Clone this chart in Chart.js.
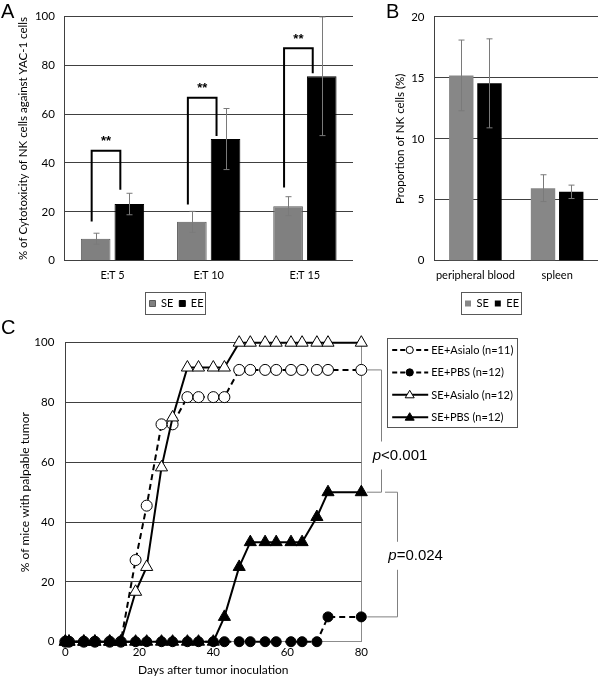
<!DOCTYPE html>
<html><head><meta charset="utf-8">
<script src="https://cdn.jsdelivr.net/npm/chart.js@4.4.1/dist/chart.umd.min.js"></script>
<style>
html,body{margin:0;padding:0;background:#fff;width:600px;height:685px;overflow:hidden;}
.wrap{position:absolute;}
.lbl{position:absolute;font-family:"Liberation Sans",Arial,sans-serif;font-size:20px;line-height:20px;color:#000;}
</style></head><body>
<div class="wrap" style="left:0;top:0;width:360px;height:319px"><canvas id="cA"></canvas></div>
<div class="wrap" style="left:386px;top:0;width:214px;height:319px"><canvas id="cB"></canvas></div>
<div class="wrap" style="left:0;top:320px;width:600px;height:365px"><canvas id="cC"></canvas></div>
<div class="lbl" style="left:1px;top:1px">A</div>
<div class="lbl" style="left:386px;top:1px">B</div>
<div class="lbl" style="left:1px;top:317px">C</div>
<script>
// ---------- Panel A data ----------
const catsA = ['E:T 5', 'E:T 10', 'E:T 15'];
const seA = [9.0, 15.9, 22.3];
const seAErr = [2.25, 4.3, 3.9];
const eeA = [23.2, 49.8, 75.5];
const eeAErr = [4.4, 12.5, 24.3];
const sigLeftA = [16, 23, 30];
const sigTopA = [45, 66.7, 87];
const sigRightA = [29, 51, 76.7];
const sigLabelA = ['**', '**', '**'];

// ---------- Panel B data ----------
const catsB = ['peripheral blood', 'spleen'];
const seB = [15.2, 5.95];
const seBErr = [2.9, 1.1];
const eeB = [14.55, 5.65];
const eeBErr = [3.65, 0.55];

// ---------- Panel C data ----------
const days = [0, 1, 5, 8, 12, 15, 19, 22, 26, 29, 33, 36, 40, 43, 47, 50, 54, 57, 61, 64, 68, 71, 80];
const eeAsialo = [0, 0, 0, 0, 0, 0, 27.3, 45.5, 72.7, 72.7, 81.8, 81.8, 81.8, 81.8, 90.9, 90.9, 90.9, 90.9, 90.9, 90.9, 90.9, 90.9, 90.9];
const eePBS = [0, 0, 0, 0, 0, 0, 0, 0, 0, 0, 0, 0, 0, 0, 0, 0, 0, 0, 0, 0, 0, 8.3, 8.3];
const seAsialo = [0, 0, 0, 0, 0, 0, 16.7, 25, 58.3, 75, 91.7, 91.7, 91.7, 91.7, 100, 100, 100, 100, 100, 100, 100, 100, 100];
const sePBS = [0, 0, 0, 0, 0, 0, 0, 0, 0, 0, 0, 0, 0, 8.3, 25, 33.3, 33.3, 33.3, 33.3, 33.3, 41.7, 50, 50];
const namesC = ['EE+Asialo (n=11)', 'EE+PBS (n=12)', 'SE+Asialo (n=12)', 'SE+PBS (n=12)'];
const pLabels = [['p', '<0.001'], ['p', '=0.024']];

const FONT = 'Lato, "Open Sans", sans-serif';
Chart.defaults.font.family = FONT;
Chart.defaults.color = '#000';
Chart.defaults.animation = false;

const errorBars = {
  id: 'errorBars',
  afterDatasetsDraw(chart) {
    const ctx = chart.ctx, y = chart.scales.y;
    ctx.save();
    ctx.strokeStyle = '#7a7a7a';
    ctx.lineWidth = 1;
    chart.data.datasets.forEach((ds, i) => {
      const meta = chart.getDatasetMeta(i);
      meta.data.forEach((bar, j) => {
        const v = ds.data[j], e = ds.errors[j];
        const x = Math.round(bar.x) + 0.5;
        const yt = y.getPixelForValue(v + e), yb = y.getPixelForValue(v - e);
        ctx.beginPath();
        ctx.moveTo(x, yt); ctx.lineTo(x, yb);
        ctx.moveTo(x - 3, yt); ctx.lineTo(x + 3, yt);
        ctx.moveTo(x - 3, yb); ctx.lineTo(x + 3, yb);
        ctx.stroke();
      });
    });
    ctx.restore();
  }
};

const legendBox = {
  id: 'legendBox',
  afterDraw(chart) {
    const hb = chart.legend && chart.legend.legendHitBoxes;
    if (!hb || !hb.length) return;
    const l = Math.min(...hb.map(h => h.left)) - 4;
    const r = Math.max(...hb.map(h => h.left + h.width)) + 2;
    const t = Math.min(...hb.map(h => h.top)) - 6;
    const b = Math.max(...hb.map(h => h.top + h.height)) + 5;
    const ctx = chart.ctx;
    ctx.save();
    ctx.strokeStyle = '#595959';
    ctx.lineWidth = 1;
    ctx.strokeRect(Math.round(l) + 0.5, Math.round(t) + 0.5, Math.round(r - l), Math.round(b - t));
    ctx.restore();
  }
};

const sigPlugin = {
  id: 'sigPlugin',
  afterDatasetsDraw(chart) {
    const ctx = chart.ctx, y = chart.scales.y;
    const m0 = chart.getDatasetMeta(0), m1 = chart.getDatasetMeta(1);
    ctx.save();
    ctx.strokeStyle = '#000';
    ctx.lineWidth = 2;
    ctx.lineJoin = 'miter';
    for (let i = 0; i < catsA.length; i++) {
      const xl = m0.data[i].x - 4, xr = m1.data[i].x - 9;
      const yt = y.getPixelForValue(sigTopA[i]);
      ctx.beginPath();
      ctx.moveTo(xl, y.getPixelForValue(sigLeftA[i]));
      ctx.lineTo(xl, yt);
      ctx.lineTo(xr, yt);
      ctx.lineTo(xr, y.getPixelForValue(sigRightA[i]));
      ctx.stroke();
      ctx.fillStyle = '#000';
      ctx.font = 'bold 13px "Liberation Sans", Arial, sans-serif';
      ctx.textAlign = 'center';
      ctx.textBaseline = 'middle';
      ctx.fillText(sigLabelA[i], (xl + xr) / 2, yt - 9);
    }
    ctx.restore();
  }
};

function barOptions(cfg) {
  return {
    responsive: true, maintainAspectRatio: false, animation: false,
    layout: { padding: { top: 10.7, right: cfg.right, left: 0, bottom: 0 } },
    plugins: {
      legend: { position: 'bottom', labels: { boxWidth: 6, boxHeight: 6, padding: 6, font: { size: 11 }, color: '#000' } },
      tooltip: { enabled: false }
    },
    scales: {
      x: {
        grid: { display: false, drawTicks: false }, border: { display: false },
        ticks: { padding: 8.5, font: { size: 11 }, color: '#000', maxRotation: 0, minRotation: 0, autoSkip: false },
        afterFit: s => { s.height = 31.3; }
      },
      y: {
        min: 0, max: cfg.max,
        ticks: { stepSize: cfg.step, padding: cfg.tickPad, font: { size: 11.5 }, color: '#000' },
        grid: { color: '#404040', drawTicks: false, lineWidth: 1 },
        border: { display: true, color: '#404040', width: 1 },
        title: { display: true, text: cfg.title, font: { size: cfg.titleSize }, color: '#000', padding: { top: cfg.titlePad, bottom: 0 } },
        afterFit: s => { s.width = cfg.axisW; }
      }
    }
  };
}

new Chart(document.getElementById('cA'), {
  type: 'bar',
  data: {
    labels: catsA,
    datasets: [
      { label: 'SE', data: seA, errors: seAErr, backgroundColor: '#808080', borderColor: '#5a5a5a', borderWidth: 1, categoryPercentage: 0.70, barPercentage: 0.88 },
      { label: 'EE', data: eeA, errors: eeAErr, backgroundColor: '#000', borderColor: '#000', borderWidth: 1, categoryPercentage: 0.70, barPercentage: 0.88 }
    ]
  },
  options: barOptions({ right: 7, max: 100, step: 20, tickPad: 9.5, title: '% of Cytotoxicity of NK cells against YAC-1 cells', titleSize: 11.5, titlePad: 16.5, axisW: 64.4 }),
  plugins: [errorBars, sigPlugin, legendBox]
});

new Chart(document.getElementById('cB'), {
  type: 'bar',
  data: {
    labels: catsB,
    datasets: [
      { label: 'SE', data: seB, errors: seBErr, backgroundColor: '#878787', borderColor: '#878787', borderWidth: 0, categoryPercentage: 0.69, barPercentage: 0.865 },
      { label: 'EE', data: eeB, errors: eeBErr, backgroundColor: '#000', borderColor: '#000', borderWidth: 0, categoryPercentage: 0.69, barPercentage: 0.865 }
    ]
  },
  options: barOptions({ right: 2, max: 20, step: 5, tickPad: 10, title: 'Proportion of NK cells (%)', titleSize: 11.5, titlePad: 7.2, axisW: 48.5 }),
  plugins: [errorBars, legendBox]
});

// ---------- Panel C ----------
const styleC = [
  { dash: [6, 4], shape: 'circle', fill: '#fff', r: 5.5, order: 3 },
  { dash: [6, 4], shape: 'circle', fill: '#000', r: 5, order: 0 },
  { dash: [], shape: 'triangle', fill: '#fff', r: 7, order: 2 },
  { dash: [], shape: 'triangle', fill: '#000', r: 7, order: 1 }
];
const seriesC = [eeAsialo, eePBS, seAsialo, sePBS];

const cAnnot = {
  id: 'cAnnot',
  afterDraw(chart) {
    const ctx = chart.ctx, ca = chart.chartArea, y = chart.scales.y;
    ctx.save();
    // legend
    const bx = ca.right + 25.4, by = ca.top - 4.4, bw = 130.3, bh = 89.4;
    ctx.strokeStyle = '#555';
    ctx.lineWidth = 1;
    ctx.strokeRect(Math.round(bx) + 0.5, Math.round(by) + 0.5, Math.round(bw), Math.round(bh));
    namesC.forEach((name, i) => {
      const st = styleC[i];
      const ry = by + 11.7 + i * 22.4;
      ctx.beginPath();
      ctx.setLineDash(st.dash.length ? [5, 3] : []);
      ctx.strokeStyle = '#000';
      ctx.lineWidth = 2;
      ctx.moveTo(bx + 5.5, ry); ctx.lineTo(bx + 41.5, ry);
      ctx.stroke();
      ctx.setLineDash([]);
      ctx.lineWidth = 1;
      ctx.fillStyle = st.fill;
      const mx = bx + 23;
      ctx.beginPath();
      if (st.shape === 'circle') {
        ctx.arc(mx, ry, 3.6, 0, Math.PI * 2);
      } else {
        ctx.moveTo(mx, ry - 4.5); ctx.lineTo(mx + 4.5, ry + 3); ctx.lineTo(mx - 4.5, ry + 3); ctx.closePath();
      }
      ctx.fill(); ctx.stroke();
      ctx.fillStyle = '#000';
      ctx.font = '11px ' + FONT;
      ctx.textAlign = 'left';
      ctx.textBaseline = 'middle';
      ctx.fillText(name, bx + 44.5, ry + 0.5);
    });
    // p-value brackets
    const yA = y.getPixelForValue(eeAsialo[eeAsialo.length - 1]);
    const yS = y.getPixelForValue(sePBS[sePBS.length - 1]);
    const yP = y.getPixelForValue(eePBS[eePBS.length - 1]);
    ctx.strokeStyle = '#808080';
    ctx.lineWidth = 1;
    const x1 = Math.round(ca.right + 19.4) + 0.5, x2 = Math.round(ca.right + 35.4) + 0.5;
    ctx.beginPath();
    ctx.moveTo(ca.right + 5.4, yA); ctx.lineTo(x1, yA); ctx.lineTo(x1, yS); ctx.lineTo(ca.right + 5.4, yS);
    ctx.moveTo(ca.right + 23.7, yS); ctx.lineTo(x2, yS); ctx.lineTo(x2, yP); ctx.lineTo(ca.right + 6, yP);
    ctx.stroke();
    const drawP = (lab, x, yc) => {
      ctx.font = 'italic 15px "Liberation Sans", Arial, sans-serif';
      const w1 = ctx.measureText(lab[0]).width;
      ctx.font = '15px "Liberation Sans", Arial, sans-serif';
      const w2 = ctx.measureText(lab[1]).width;
      ctx.fillStyle = '#fff';
      ctx.fillRect(x - 1, yc - 14, w1 + w2 + 2, 28);
      ctx.fillStyle = '#000';
      ctx.textAlign = 'left';
      ctx.textBaseline = 'middle';
      ctx.font = 'italic 15px "Liberation Sans", Arial, sans-serif';
      ctx.fillText(lab[0], x, yc);
      ctx.font = '15px "Liberation Sans", Arial, sans-serif';
      ctx.fillText(lab[1], x + w1, yc);
    };
    drawP(pLabels[0], ca.right + 11.4, yA + 0.70 * (yS - yA));
    drawP(pLabels[1], ca.right + 27, yS + 0.51 * (yP - yS));
    ctx.restore();
  }
};

new Chart(document.getElementById('cC'), {
  type: 'line',
  data: {
    datasets: seriesC.map((vals, i) => ({
      label: namesC[i],
      data: days.map((d, k) => ({ x: d, y: vals[k] })),
      borderColor: '#000', borderWidth: 2, borderDash: styleC[i].dash,
      pointStyle: styleC[i].shape, pointRadius: styleC[i].r,
      pointBackgroundColor: styleC[i].fill, pointBorderColor: '#000', pointBorderWidth: 1,
      tension: 0, fill: false, clip: false, order: styleC[i].order
    }))
  },
  options: {
    responsive: true, maintainAspectRatio: false, animation: false,
    layout: { padding: { top: 22.7, right: 238.7, left: 0, bottom: 0 } },
    plugins: { legend: { display: false }, tooltip: { enabled: false } },
    scales: {
      x: {
        type: 'linear', min: 0, max: 80,
        ticks: { stepSize: 20, padding: 4, font: { size: 11.5 }, color: '#000' },
        grid: { drawTicks: false, color: c => (c.tick && c.tick.value === 80) ? '#8c8c8c' : 'rgba(0,0,0,0)' },
        border: { display: true, color: '#8c8c8c' },
        title: { display: true, text: 'Days after tumor inoculation', font: { size: 12 }, color: '#000', padding: { top: 0, bottom: 7.8 } },
        afterFit: s => { s.height = 43.3; }
      },
      y: {
        min: 0, max: 100,
        ticks: { stepSize: 20, padding: 11, font: { size: 11.5 }, color: '#000' },
        grid: { drawTicks: false, color: c => (c.tick && c.tick.value === 0) ? '#8c8c8c' : '#404040' },
        border: { display: true, color: '#404040' },
        title: { display: true, text: '% of mice with palpable tumor', font: { size: 12 }, color: '#000', padding: { top: 17.8, bottom: 0 } },
        afterFit: s => { s.width = 65.3; }
      }
    }
  },
  plugins: [cAnnot]
});
</script>
</body></html>
